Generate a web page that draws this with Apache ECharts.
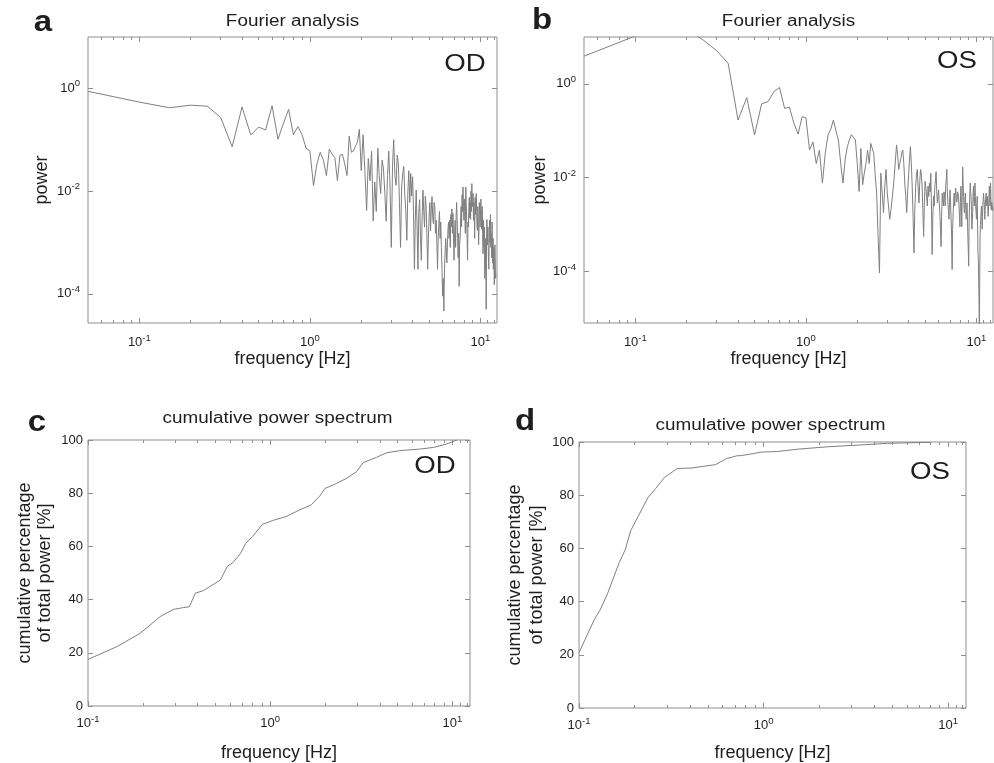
<!DOCTYPE html>
<html>
<head>
<meta charset="utf-8">
<script src="https://cdn.jsdelivr.net/npm/echarts@6/dist/echarts.min.js"></script>
<style>html,body{margin:0;padding:0;background:#fff}#chart{width:994px;height:763px}</style>
</head>
<body>
<div id="chart"></div>
<script>
// ---------- data ----------
const fftFreqOD = [0.05,0.1,0.15,0.2,0.25,0.3,0.35,0.4,0.45,0.5,0.55,0.6,0.65,0.7,0.75,0.8,0.85,0.9,0.95,1.0,
  1.05,1.1,1.15,1.2,1.25,1.3,1.35,1.4,1.45,1.5,1.55,1.6,1.65,1.7,1.75,1.8,1.85,1.9,1.95,2.0,
  2.05,2.1,2.15,2.2,2.25,2.3,2.35,
  2.4,2.45,2.5,2.55,2.6,2.65,2.7,2.75,2.8,2.85,2.9,2.95,
  3.0,3.05,3.1,3.15,3.2,3.25,3.3,3.35,3.4,3.45,3.5,3.55,3.6,3.65,3.7,3.75,3.8,3.85,3.9,3.95,
  4.0,4.05,4.1,4.15,4.2,4.25,4.3,4.35,4.4,4.45,4.5,4.55,4.6,4.65,4.7,4.75,4.8,4.85,4.9,4.95,
  5.0,5.05,5.1,5.15,5.2,5.25,5.3,5.35,5.4,5.45,5.5,5.55,5.6,5.65,5.7,5.75,5.8,5.85,5.9,5.95,
  6.0,6.05,6.1,6.15,6.2,6.25,6.3,6.35,6.4,6.45,6.5,6.55,6.6,6.65,6.7,6.75,6.8,6.85,6.9,6.95,
  7.0,7.05,7.1,7.15,7.2,7.25,7.3,7.35,7.4,7.45,7.5,7.55,7.6,7.65,7.7,7.75,7.8,7.85,7.9,7.95,
  8.0,8.05,8.1,8.15,8.2,8.25,8.3,8.35,8.4,8.45,8.5,8.55,8.6,8.65,8.7,8.75,8.8,8.85,8.9,8.95,
  9.0,9.05,9.1,9.15,9.2,9.25,9.3,9.35,9.4,9.45,9.5,9.55,9.6,9.65,9.7,9.75,9.8,9.85,9.9,9.95,
  10.0,10.05,10.1,10.15,10.2,10.25,10.3,10.35,10.4,10.45,10.5,10.55,10.6,10.65,10.7,10.75,10.8,10.85,10.9,10.95,
  11.0,11.05,11.1,11.15,11.2,11.25,11.3,11.35,11.4,11.45,11.5,11.55,11.6,11.65,11.7,11.75,11.8,11.85,11.9,11.95,
  12.0,12.05,12.1,12.15,12.2,12.25,12.3];
const fftPowerOD = [0.875,0.54,0.42,0.47,0.45,0.27,0.073,0.435,0.124,0.176,0.155,0.46,0.102,0.21,0.39,0.125,0.18,0.125,0.068,0.06,
  0.0128,0.034,0.057,0.04,0.02,0.066,0.052,0.045,0.016,0.05,0.052,0.034,0.02,0.118,0.057,0.06,0.075,0.09,0.16,0.025,
  0.125,0.025,0.0042,0.043,0.016,0.06,0.0026,
  0.015,0.004,0.068,0.02,0.0089,0.04,0.027,0.009,0.0026,0.02,0.06,0.012,
  0.0008,0.03,0.1,0.02,0.013,0.05,0.034,0.006,0.0008,0.012,0.022,0.03,0.0085,0.004,0.0011,0.009,0.025,0.006,0.022,0.008,
  0.019,0.004,0.0003,0.003,0.0105,0.002,0.0003,0.004,0.0068,0.0012,0.00045,0.003,0.0105,0.004,0.002,0.008,0.005,0.0015,0.0003,0.0012,
  0.0032,0.006,0.0017,0.0045,0.0078,0.003,0.0023,0.006,0.005,0.0015,0.0027,0.001,0.0003,0.0012,0.0023,0.004,0.0012,0.0025,0.0008,0.0003,
  0.00009,0.0002,0.000046,0.0003,0.0006,0.0012,0.0008,0.0004,0.0009,0.0018,0.0025,0.0012,0.0027,0.0008,0.0035,0.002,0.0045,0.0015,0.0037,0.0012,
  0.00045,0.0015,0.0027,0.0008,0.0033,0.006,0.0027,0.0012,0.0005,0.0015,0.00014,0.0009,0.0012,0.003,0.005,0.002,0.0085,0.004,0.012,0.005,
  0.0027,0.007,0.004,0.0015,0.012,0.006,0.003,0.0012,0.00045,0.0025,0.002,0.005,0.0075,0.003,0.006,0.0028,0.01,0.004,0.014,0.006,
  0.005,0.009,0.0027,0.006,0.003,0.0012,0.0075,0.0035,0.005,0.009,0.004,0.002,0.0017,0.005,0.0025,0.0009,0.0017,0.006,0.004,0.002,
  0.0035,0.007,0.0045,0.0018,0.0027,0.005,0.0015,0.0006,0.0027,0.0012,0.0008,0.002,0.0002,0.0009,0.0003,0.0012,0.00005,0.0008,0.0028,0.0015,
  0.0009,0.002,0.0009,0.0004,0.0003,0.0012,0.0027,0.001,0.0018,0.0035,0.0008,0.0015,0.001,0.0005,0.0025,0.0009,0.0004,0.0012,0.0003,0.0008,
  0.0006,0.00015,0.0003,0.0009,0.0005,0.0002,0.00025];

const fftFreqOS = [0.05,0.1,0.15,0.2,0.25,0.3,0.35,0.4,0.45,0.5,0.55,0.6,0.65,0.7,0.75,0.8,0.85,0.9,0.95,1.0,
  1.05,1.1,1.15,1.2,1.25,1.3,1.35,1.4,1.45,1.5,1.55,1.6,1.65,1.7,1.75,1.8,1.85,1.9,1.95,2.0,
  2.05,2.1,2.15,2.2,2.25,2.3,2.35,2.4,2.45,2.5,2.55,2.6,2.65,2.7,2.75,2.8,2.85,2.9,2.95,
  3.0,3.05,3.1,3.15,3.2,3.25,3.3,3.35,3.4,3.45,3.5,3.55,3.6,3.65,3.7,3.75,3.8,3.85,3.9,3.95,
  4.0,4.05,4.1,4.15,4.2,4.25,4.3,4.35,4.4,4.45,4.5,4.55,4.6,4.65,4.7,4.75,4.8,4.85,4.9,4.95,
  5.0,5.05,5.1,5.15,5.2,5.25,5.3,5.35,5.4,5.45,5.5,5.55,5.6,5.65,5.7,5.75,5.8,5.85,5.9,5.95,
  6.0,6.05,6.1,6.15,6.2,6.25,6.3,6.35,6.4,6.45,6.5,6.55,6.6,6.65,6.7,6.75,6.8,6.85,6.9,6.95,
  7.0,7.05,7.1,7.15,7.2,7.25,7.3,7.35,7.4,7.45,7.5,7.55,7.6,7.65,7.7,7.75,7.8,7.85,7.9,7.95,
  8.0,8.05,8.1,8.15,8.2,8.25,8.3,8.35,8.4,8.45,8.5,8.55,8.6,8.65,8.7,8.75,8.8,8.85,8.9,8.95,
  9.0,9.05,9.1,9.15,9.2,9.25,9.3,9.35,9.4,9.45,9.5,9.55,9.6,9.65,9.7,9.75,9.8,9.85,9.9,9.95,
  10.0,10.05,10.1,10.15,10.2,10.25,10.3,10.35,10.4,10.45,10.5,10.55,10.6,10.65,10.7,10.75,10.8,10.85,10.9,10.95,
  11.0,11.05,11.1,11.15,11.2,11.25,11.3,11.35,11.4,11.45,11.5,11.55,11.6,11.65,11.7,11.75,11.8,11.85,11.9,11.95,
  12.0,12.05,12.1,12.15,12.2,12.25,12.3,12.35,12.4,12.45,12.5];
const fftPowerOS = [3.9,10.5,20,14.5,8.6,5.1,2.75,0.17,0.51,0.082,0.375,0.42,0.69,0.84,0.3,0.32,0.146,0.085,0.2,0.19,
  0.039,0.058,0.02,0.039,0.0077,0.035,0.083,0.11,0.17,0.1,0.064,0.02,0.0077,0.025,0.046,0.064,0.083,0.076,0.064,0.02,
  0.0051,0.042,0.0071,0.0125,0.02,0.039,0.02,0.054,0.054,0.033,0.011,0.0045,0.00056,0.000094,0.0125,0.0047,0.0018,0.0066,0.015,
  0.0047,0.0025,0.0013,0.002,0.0034,0.006,0.011,0.025,0.05,0.03,0.015,0.02,0.025,0.035,0.039,0.02,0.0077,0.004,0.0018,0.005,
  0.011,0.025,0.046,0.02,0.0066,0.0015,0.00025,0.002,0.0066,0.012,0.015,0.006,0.0029,0.008,0.015,0.012,0.0066,0.002,0.00056,0.003,
  0.0084,0.006,0.004,0.0025,0.0066,0.004,0.0077,0.005,0.0125,0.002,0.00023,0.0015,0.004,0.0025,0.0066,0.009,0.0135,0.005,0.0029,0.004,
  0.0055,0.003,0.0018,0.0008,0.00034,0.0015,0.0047,0.003,0.0025,0.005,0.004,0.0025,0.0066,0.009,0.015,0.005,0.0029,0.002,0.0013,0.003,
  0.0055,0.003,0.0013,0.0006,0.00011,0.0008,0.0018,0.003,0.0047,0.0025,0.004,0.006,0.0066,0.003,0.0034,0.005,0.0055,0.004,0.0025,0.0015,
  0.0009,0.003,0.0066,0.003,0.0009,0.004,0.017,0.008,0.004,0.0025,0.0018,0.003,0.0047,0.0025,0.0013,0.002,0.0029,0.0015,0.00056,0.0003,
  0.00013,0.0009,0.0025,0.005,0.0077,0.005,0.004,0.002,0.0008,0.0012,0.0018,0.004,0.0066,0.004,0.0025,0.004,0.0077,0.004,0.0025,0.0018,
  0.0013,0.0025,0.004,0.0012,0.00025,0.0002,0.00007,0.00002,0.000003,0.00008,0.00056,0.001,0.0013,0.002,0.0025,0.0015,0.0008,0.0015,0.0025,0.0035,
  0.0047,0.0035,0.0029,0.002,0.0013,0.002,0.0034,0.004,0.0047,0.003,0.0025,0.0032,0.004,0.0025,0.0015,0.002,0.0029,0.0045,0.0066,0.004,
  0.0025,0.004,0.0077,0.004,0.0021,0.0025,0.003,0.002,0.0025,0.0022,0.002];

const cumFreqOD = [0.1,0.144,0.193,0.249,0.294,0.334,0.36,0.388,0.431,0.534,0.58,0.626,0.688,0.735,0.8,0.907,1.03,1.22,1.45,1.68,1.87,2.0,2.22,2.63,2.98,3.24,3.84,4.36,5.16,6.66,7.86,9.29,10.6];
const cumPctOD  = [17.5,22.3,27.3,33.6,36.3,37,37.3,42.4,43.4,47.4,52.4,54,57.4,61.2,63.7,68.3,69.7,71.2,73.7,75.6,78.9,81.8,83.1,85.6,88.1,91.5,93.5,95.2,96,96.6,97.2,98.5,100];

const cumFreqOS = [0.1,0.1206,0.13,0.1426,0.165,0.178,0.191,0.236,0.26,0.29,0.34,0.357,0.405,0.5,0.55,0.63,0.667,0.716,0.757,0.875,0.97,1.18,1.53,2.22,3.37,4.7,8.0];
const cumPctOS  = [20.8,33,36.8,42.9,54.6,59.5,66.8,79,82.5,86.6,90,90.1,90.2,91.1,91.5,93.8,94.2,94.8,94.9,95.6,96.2,96.4,97.3,98.2,98.9,99.5,99.9];

const freqMajorTicks = [0.1, 1, 10];
const freqMinorTicks = [0.06,0.07,0.08,0.09,0.2,0.3,0.4,0.5,0.6,0.7,0.8,0.9,2,3,4,5,6,7,8,9,11,12];
const powerTicks = [0.0001, 0.01, 1];

// ---------- styling ----------
const FONT = '"Liberation Sans", Arial, Helvetica, sans-serif';
const AX = '#8f8f8f';
const TXT = '#1e1e1e';
const LINE = '#7f7f7f';
const rich = {
  b: {fontSize: 13, fontFamily: FONT, color: TXT},
  e: {fontSize: 9.5, fontFamily: FONT, color: TXT, padding: [0, 0, 9, 0]}
};
function powLabel(v) {
  const l = Math.log10(v), e = Math.round(l);
  return Math.abs(l - e) < 1e-6 ? '{b|10}{e|' + e + '}' : '';
}
function logAxis(o) {
  return {
    type: 'log', logBase: 10, gridIndex: o.grid, min: o.min, max: o.max, position: o.pos,
    axisLine: {show: false, onZero: false},
    splitLine: {show: false},
    axisTick: {show: true, inside: true, length: o.len, customValues: o.ticks, lineStyle: {color: AX, width: 1}},
    axisLabel: o.labels ? {show: true, customValues: o.labels, formatter: powLabel, rich: rich, margin: o.margin} : {show: false},
    name: o.name || '', nameLocation: 'middle', nameGap: o.nameGap || 0,
    nameTextStyle: {fontSize: 18, fontFamily: FONT, color: TXT},
    silent: true
  };
}
function valAxis(o) {
  return {
    type: 'value', gridIndex: o.grid, min: 0, max: 100, interval: 20, position: o.pos,
    axisLine: {show: false, onZero: false},
    splitLine: {show: false},
    axisTick: {show: true, inside: true, length: 5, lineStyle: {color: AX, width: 1}},
    axisLabel: {show: !!o.labels, fontSize: 13, fontFamily: FONT, color: TXT, margin: 5},
    name: o.name || '', nameLocation: 'middle', nameGap: o.nameGap || 0,
    nameTextStyle: {fontSize: 18, fontFamily: FONT, color: TXT, lineHeight: o.lh || 20},
    silent: true
  };
}

const grids = [
  {left: 88, top: 37, width: 409, height: 286},
  {left: 584, top: 37, width: 409, height: 286},
  {left: 88, top: 440, width: 382, height: 266},
  {left: 579, top: 442, width: 387, height: 271}
].map(g => Object.assign({show: true, borderColor: AX, borderWidth: 1, backgroundColor: '#fff', containLabel: false}, g));

const xAxes = [];
const yAxes = [];
const series = [];

function addLogX(grid, min, name, nameGap, margin) {
  const idx = xAxes.length;
  xAxes.push(logAxis({grid, min, max: 12.5, pos: 'bottom', len: 5, ticks: freqMajorTicks, labels: freqMajorTicks, margin, name, nameGap}));
  xAxes.push(logAxis({grid, min, max: 12.5, pos: 'bottom', len: 3, ticks: freqMinorTicks}));
  xAxes.push(logAxis({grid, min, max: 12.5, pos: 'top', len: 5, ticks: freqMajorTicks}));
  xAxes.push(logAxis({grid, min, max: 12.5, pos: 'top', len: 3, ticks: freqMinorTicks}));
  return idx;
}

// panel a
const xa = addLogX(0, 0.05, 'frequency [Hz]', 26, 10);
const ya = yAxes.length;
yAxes.push(logAxis({grid: 0, min: 2.7e-5, max: 10, pos: 'left', len: 5, ticks: powerTicks, labels: powerTicks, margin: 8, name: 'power', nameGap: 37}));
yAxes.push(logAxis({grid: 0, min: 2.7e-5, max: 10, pos: 'right', len: 5, ticks: powerTicks}));
// panel b
const xb = addLogX(1, 0.05, 'frequency [Hz]', 25, 10);
const yb = yAxes.length;
yAxes.push(logAxis({grid: 1, min: 8e-6, max: 10, pos: 'left', len: 5, ticks: powerTicks, labels: powerTicks, margin: 8, name: 'power', nameGap: 35}));
yAxes.push(logAxis({grid: 1, min: 8e-6, max: 10, pos: 'right', len: 5, ticks: powerTicks}));
// panel c
const xc = addLogX(2, 0.1, 'frequency [Hz]', 38, 8);
const yc = yAxes.length;
yAxes.push(valAxis({grid: 2, pos: 'left', labels: true, name: 'cumulative percentage\nof total power [%]', nameGap: 33, lh: 20}));
yAxes.push(valAxis({grid: 2, pos: 'right'}));
// panel d
const xd = addLogX(3, 0.1, 'frequency [Hz]', 36, 8);
const yd = yAxes.length;
yAxes.push(valAxis({grid: 3, pos: 'left', labels: true, name: 'cumulative percentage\nof total power [%]', nameGap: 31, lh: 22}));
yAxes.push(valAxis({grid: 3, pos: 'right'}));

function lineSeries(name, xi, yi, fx, fy) {
  return {
    name, type: 'line', xAxisIndex: xi, yAxisIndex: yi,
    data: fx.map((f, i) => [f, fy[i]]),
    showSymbol: false, symbol: 'none', clip: true, smooth: false,
    lineStyle: {color: LINE, width: 1}, silent: true
  };
}
series.push(lineSeries('OD spectrum', xa, ya, fftFreqOD, fftPowerOD));
series.push(lineSeries('OS spectrum', xb, yb, fftFreqOS, fftPowerOS));
series.push(lineSeries('OD cumulative', xc, yc, cumFreqOD, cumPctOD));
series.push(lineSeries('OS cumulative', xd, yd, cumFreqOS, cumPctOS));

function txt(t, x, y, size, weight, sx) {
  return {type: 'text', x, y, scaleX: sx || 1, silent: true, z: 10,
    style: {text: t, fontSize: size, fontWeight: weight || 'normal', fontFamily: FONT, fill: TXT,
      align: 'center', verticalAlign: 'middle', textAlign: 'center', textVerticalAlign: 'middle'}};
}
const graphic = [
  txt('a', 43, 23, 30, 'bold', 1.1),
  txt('b', 542, 21, 30, 'bold', 1.1),
  txt('c', 37, 423, 30, 'bold', 1.1),
  txt('d', 525, 422, 30, 'bold', 1.1),
  txt('Fourier analysis', 292.5, 22, 16, 'normal', 1.18),
  txt('Fourier analysis', 788.5, 22, 16, 'normal', 1.18),
  txt('cumulative power spectrum', 277.5, 419, 16, 'normal', 1.18),
  txt('cumulative power spectrum', 770.5, 426, 16, 'normal', 1.18),
  txt('OD', 465, 65, 23, 'normal', 1.2),
  txt('OS', 957, 62, 23, 'normal', 1.2),
  txt('OD', 435, 467, 23, 'normal', 1.2),
  txt('OS', 930, 473, 23, 'normal', 1.2)
];

const chart = echarts.init(document.getElementById('chart'), null, {renderer: 'canvas'});
chart.setOption({
  animation: false,
  backgroundColor: '#fff',
  grid: grids,
  xAxis: xAxes,
  yAxis: yAxes,
  series: series,
  graphic: graphic
});
</script>
</body>
</html>
